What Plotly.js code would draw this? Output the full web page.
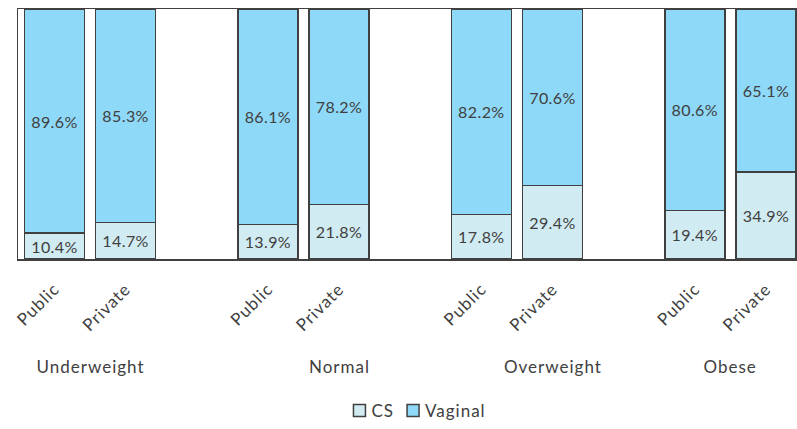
<!DOCTYPE html>
<html>
<head>
<meta charset="utf-8">
<script src="https://cdn.plot.ly/plotly-3.0.1.min.js"></script>
<style>
  html, body { margin: 0; padding: 0; background: #ffffff; }
  #chart { width: 797px; height: 429px; }
  /* Slightly open letter spacing for the axis, group and legend captions */
  #chart .xtick text, #chart .annotation-text, #chart .legendtext { letter-spacing: 1px; }
  #chart .bartext { letter-spacing: 0.4px; }
</style>
</head>
<body>
<div id="chart"></div>
<script>
// BMI groups and the facility type within each group
const groups = ["Underweight", "Normal", "Overweight", "Obese"];
const facilities = ["Public", "Private"];

// Share of deliveries (%) per bar, ordered group by group: Public, Private
const csShare      = [10.4, 14.7, 13.9, 21.8, 17.8, 29.4, 19.4, 34.9];
const vaginalShare = [89.6, 85.3, 86.1, 78.2, 82.2, 70.6, 80.6, 65.1];

// Slot positions: two bars per group with one empty slot between groups
const xPos = [];
const tickText = [];
groups.forEach((g, gi) => {
  facilities.forEach((f, fi) => {
    xPos.push(gi * 3 + fi);
    tickText.push(f);
  });
});

const ink = "#404040";
const fontFamily = "Lato, 'Open Sans', sans-serif";

function series(name, values, color) {
  return {
    type: "bar",
    name: name,
    x: xPos,
    y: values,
    width: 0.845,
    marker: { color: color, line: { color: ink, width: 1.5 } },
    text: values.map(v => v.toFixed(1) + "%"),
    texttemplate: "%{text}",
    textposition: "inside",
    insidetextanchor: "middle",
    textangle: 0,
    textfont: { family: fontFamily, size: 16, color: ink },
    hoverinfo: "skip"
  };
}

const data = [
  series("CS", csShare, "#d0ebf2"),
  series("Vaginal", vaginalShare, "#8ed8f8")
];

// Group captions sit under the rotated facility labels
const groupAnchors = [0.5, 4, 7, 9.5];
const annotations = groups.map((g, i) => ({
  text: g,
  x: groupAnchors[i],
  xref: "x",
  y: -0.43,
  yref: "paper",
  xanchor: "center",
  yanchor: "middle",
  showarrow: false,
  font: { family: fontFamily, size: 17, color: ink }
}));

const layout = {
  width: 797,
  height: 429,
  margin: { l: 18, r: 0, t: 9, b: 168 },
  barmode: "stack",
  paper_bgcolor: "#ffffff",
  plot_bgcolor: "#ffffff",
  showlegend: true,
  legend: {
    orientation: "h",
    x: 0.516,
    xanchor: "center",
    y: -0.611,
    yanchor: "middle",
    font: { family: fontFamily, size: 17, color: ink },
    itemwidth: 30,
    traceorder: "normal"
  },
  xaxis: {
    range: [-0.513, 10.436],
    tickmode: "array",
    tickvals: xPos,
    ticktext: tickText,
    tickangle: -45,
    ticks: "",
    ticklabelstandoff: 12,
    showgrid: false,
    zeroline: false,
    showline: true,
    mirror: true,
    linecolor: ink,
    linewidth: 1.5,
    tickfont: { family: fontFamily, size: 17, color: ink }
  },
  yaxis: {
    range: [0, 100],
    showticklabels: false,
    ticks: "",
    showgrid: false,
    zeroline: false,
    showline: true,
    linecolor: ink,
    linewidth: 1.5
  },
  annotations: annotations
};

Plotly.newPlot("chart", data, layout, { displayModeBar: false, staticPlot: true }).then(gd => {
  // Tighten the legend: bring each label closer to its swatch
  const items = gd.querySelectorAll(".legend .traces");
  items.forEach((item, i) => {
    const t = item.querySelector(".legendtext");
    if (t) t.setAttribute("x", 32);
    const m = /translate\(([-\d.]+),\s*([-\d.]+)\)/.exec(item.getAttribute("transform") || "");
    if (m) item.setAttribute("transform", `translate(${parseFloat(m[1]) - 12 * i + 2},${m[2]})`);
  });
});
</script>
</body>
</html>
